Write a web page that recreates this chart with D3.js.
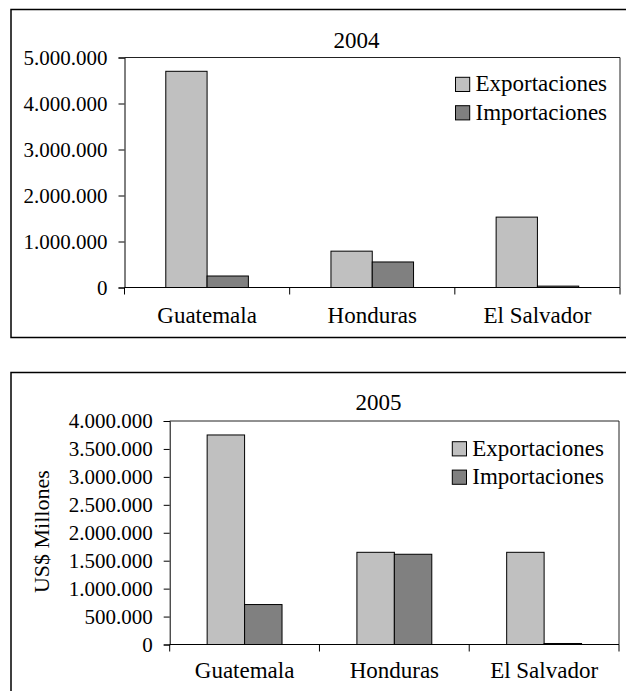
<!DOCTYPE html>
<html>
<head>
<meta charset="utf-8">
<script src="https://cdn.jsdelivr.net/npm/d3@7/dist/d3.min.js"></script>
<style>
  html, body { margin: 0; padding: 0; background: #fff; }
  svg { display: block; }
</style>
</head>
<body>
<svg id="chart" width="626" height="691" font-family="Liberation Serif"></svg>
<script>
const categories = ["Guatemala", "Honduras", "El Salvador"];
const seriesNames = ["Exportaciones", "Importaciones"];
const exp2004 = [4700000, 790000, 1530000];
const imp2004 = [250000, 555000, 30000];
const exp2005 = [3750000, 1650000, 1650000];
const imp2005 = [715000, 1615000, 18000];
const ticks2004 = [0, 1000000, 2000000, 3000000, 4000000, 5000000];
const ticks2005 = [0, 500000, 1000000, 1500000, 2000000, 2500000, 3000000, 3500000, 4000000];
const colors = ["#c0c0c0", "#808080"];

const FONT = "'Liberation Serif'";
const loc = d3.formatLocale({decimal: ",", thousands: ".", grouping: [3], currency: ["$", ""]});
const fmt = loc.format(",.0f");

const svg = d3.select("#chart");

function txt(sel, size) {
  return sel.attr("font-family", "Liberation Serif").style("font-family", FONT).style("font-size", size + "px").attr("fill", "#000");
}

function drawPanel(cfg) {
  const g = svg.append("g");
  g.append("rect")
    .attr("x", cfg.frame[0]).attr("y", cfg.frame[1])
    .attr("width", cfg.frame[2]).attr("height", cfg.frame[3])
    .attr("fill", "none").attr("stroke", "#000").attr("stroke-width", 1.5);

  const x = d3.scaleBand().domain(categories).range([cfg.left, cfg.right]).paddingInner(0).paddingOuter(0);
  const y = d3.scaleLinear().domain([0, cfg.max]).range([cfg.bottom, cfg.top]);
  const bw = x.bandwidth() / 4;

  g.append("path")
    .attr("d", `M${cfg.left},${cfg.top}H${cfg.right}V${cfg.bottom}`)
    .attr("fill", "none").attr("stroke", "#222").attr("stroke-width", 1);

  const series = [cfg.exp, cfg.imp];
  series.forEach((vals, si) => {
    g.selectAll(null).data(categories).enter().append("rect")
      .attr("x", (d) => x(d) + bw + si * bw)
      .attr("y", (d, i) => y(vals[i]))
      .attr("width", bw)
      .attr("height", (d, i) => y(0) - y(vals[i]))
      .attr("fill", colors[si])
      .attr("stroke", "#000").attr("stroke-width", 1);
  });

  const ya = g.append("g").attr("transform", `translate(${cfg.left},0)`)
    .call(d3.axisLeft(y).tickValues(cfg.ticks).tickFormat(fmt).tickSize(6).tickPadding(11));
  ya.attr("font-family", "Liberation Serif");
  ya.select(".domain").attr("stroke", "#000");
  ya.selectAll(".tick line").attr("stroke", "#000");
  txt(ya.selectAll("text"), 21);

  g.append("line").attr("x1", cfg.left).attr("x2", cfg.right)
    .attr("y1", y(0)).attr("y2", y(0)).attr("stroke", "#000");
  const bounds = categories.map((c) => x(c)).concat([x.range()[1]]);
  g.selectAll(null).data(bounds).enter().append("line")
    .attr("x1", (d) => d).attr("x2", (d) => d)
    .attr("y1", y(0)).attr("y2", y(0) + 7).attr("stroke", "#000");
  txt(g.selectAll(null).data(categories).enter().append("text")
    .attr("x", (d) => x(d) + x.bandwidth() / 2)
    .attr("y", cfg.catY)
    .attr("text-anchor", "middle")
    .text((d) => d), 23);

  txt(g.append("text").attr("x", cfg.titleX).attr("y", cfg.titleY)
    .attr("text-anchor", "middle").text(cfg.title), 23);

  seriesNames.forEach((name, i) => {
    g.append("rect")
      .attr("x", cfg.legX).attr("y", cfg.legY + i * 28.4)
      .attr("width", 14.2).attr("height", 14.2)
      .attr("fill", colors[i]).attr("stroke", "#000").attr("stroke-width", 1);
    txt(g.append("text")
      .attr("x", cfg.legX + 20).attr("y", cfg.legY + 14 + i * 28.4)
      .text(name), 23);
  });

  if (cfg.ylabel) {
    txt(g.append("text")
      .attr("transform", `translate(${cfg.ylabel[1]},${cfg.ylabel[2]}) rotate(-90)`)
      .attr("text-anchor", "middle").attr("dy", "0.35em")
      .text(cfg.ylabel[0]), 22);
  }
}

drawPanel({
  frame: [11, 9.5, 640, 328],
  left: 124.5, right: 620, top: 57.5, bottom: 287.5, max: 5000000,
  exp: exp2004, imp: imp2004, ticks: ticks2004,
  catY: 322.5, title: "2004", titleX: 356.5, titleY: 48,
  legX: 455.5, legY: 77.3
});

drawPanel({
  frame: [11, 372.5, 640, 340],
  left: 169.7, right: 619, top: 421, bottom: 644.5, max: 4000000,
  exp: exp2005, imp: imp2005, ticks: ticks2005,
  catY: 678, title: "2005", titleX: 378.4, titleY: 410,
  legX: 452.3, legY: 441.7,
  ylabel: ["US$ Millones", 41, 531.7]
});
</script>
</body>
</html>
